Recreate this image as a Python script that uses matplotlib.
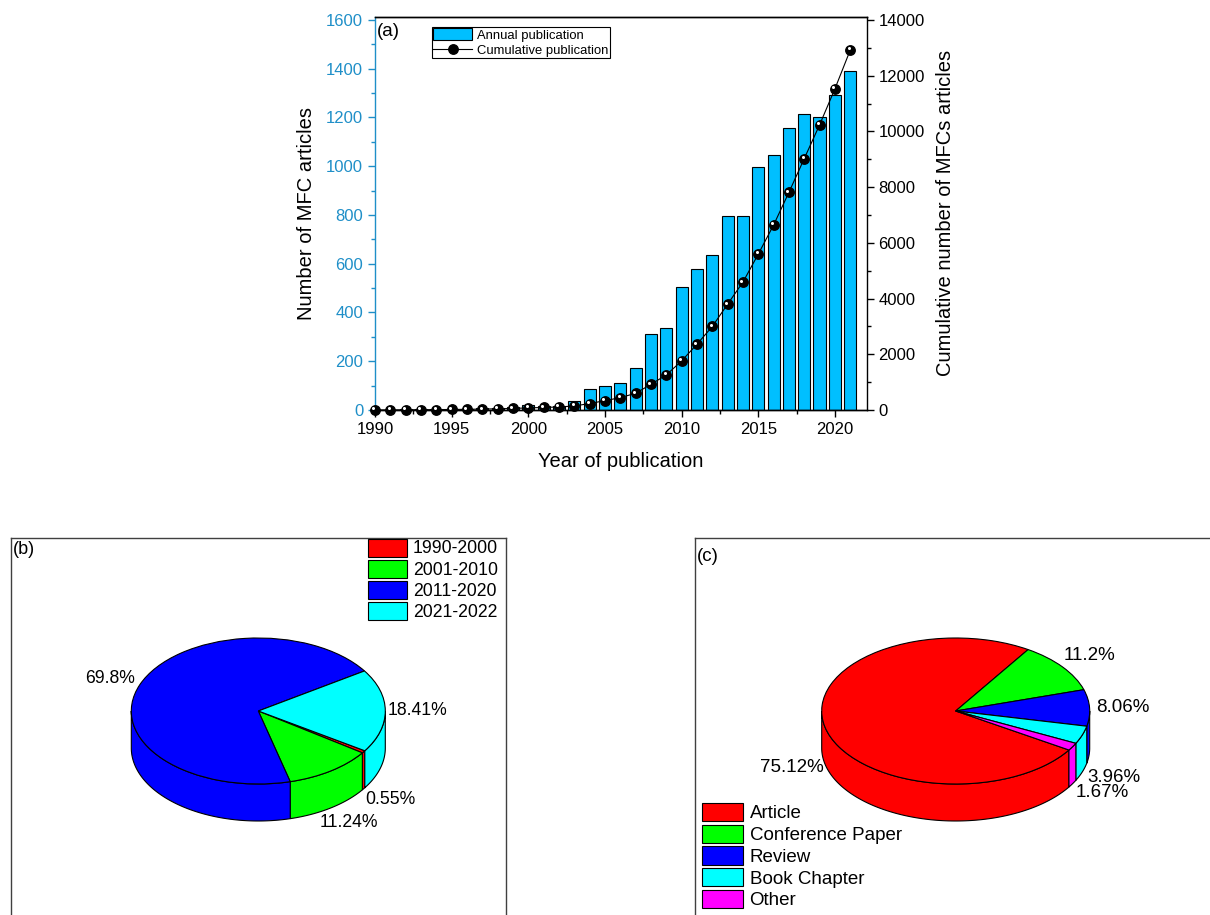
import numpy as np
import matplotlib
matplotlib.use('Agg')
import matplotlib.pyplot as plt
from matplotlib.ticker import MultipleLocator
import matplotlib.transforms as mtransforms

plt.rcParams['font.family'] = ['Liberation Sans', 'DejaVu Sans']

# ---------------- data ----------------
years = list(range(1990, 2022))
annual = [2, 2, 3, 3, 4, 5, 6, 8, 10, 13, 20, 15, 18, 35, 88, 100, 112, 172,
          311, 338, 504, 579, 634, 797, 796, 997, 1044, 1155, 1214, 1202, 1292, 1390]
cumulative = [2, 4, 7, 10, 14, 19, 25, 33, 43, 56, 76, 91, 109, 144, 232, 336,
              444, 600, 923, 1259, 1763, 2362, 2998, 3801, 4592, 5600, 6643,
              7818, 9029, 10240, 11535, 12926]

periods = ['1990-2000', '2001-2010', '2011-2020', '2021-2022']
period_pct = [0.55, 11.24, 69.8, 18.41]
period_labels = ['0.55%', '11.24%', '69.8%', '18.41%']
period_colors = ['#FF0000', '#00FF00', '#0000FF', '#00FFFF']

doc_types = ['Article', 'Conference Paper', 'Review', 'Book Chapter', 'Other']
doc_pct = [75.12, 11.2, 8.06, 3.96, 1.67]
doc_labels = ['75.12%', '11.2%', '8.06%', '3.96%', '1.67%']
doc_colors = ['#FF0000', '#00FF00', '#0000FF', '#00FFFF', '#FF00FF']

BAR_COLOR = '#00BFFF'
LEFT_COLOR = '#1F8FC8'

W, H = 1210, 915
fig = plt.figure(figsize=(W / 100, H / 100), dpi=100)


def rect(l, t, r, b):
    return [l / W, 1 - b / H, (r - l) / W, (b - t) / H]


# ---------------- panel (a) ----------------
ax = fig.add_axes(rect(375, 16.7, 866.7, 410))
bars = ax.bar(years, annual, width=0.8, color=BAR_COLOR, edgecolor='black',
              linewidth=0.8, zorder=2)
ax.set_xlim(1990, 2022.07)
ax.set_ylim(0, 1613)
ax.xaxis.set_major_locator(MultipleLocator(5))
ax.xaxis.set_minor_locator(MultipleLocator(2.5))
ax.yaxis.set_major_locator(MultipleLocator(200))
ax.yaxis.set_minor_locator(MultipleLocator(100))
ax.tick_params(axis='y', which='both', colors=LEFT_COLOR, direction='out', labelsize=12)
ax.tick_params(axis='x', which='both', colors='black', direction='out', labelsize=12)
ax.tick_params(which='major', length=5, width=1)
ax.tick_params(which='minor', length=3, width=1)
ax.spines['left'].set_color(LEFT_COLOR)
ax.spines['right'].set_visible(False)
for s in ax.spines.values():
    s.set_linewidth(1)
ax.set_ylabel('Number of MFC articles', fontsize=14.5, labelpad=7)
ax.set_xlabel('Year of publication', fontsize=14.5, labelpad=11)
ax.text(0.004, 0.985, '(a)', transform=ax.transAxes, ha='left', va='top', fontsize=13.5)

ax2 = ax.twinx()
ax2.set_ylim(0, 14120)
ax2.yaxis.set_major_locator(MultipleLocator(2000))
ax2.yaxis.set_minor_locator(MultipleLocator(1000))
ax2.tick_params(axis='y', which='both', direction='out', labelsize=12)
ax2.tick_params(which='major', length=5, width=1)
ax2.tick_params(which='minor', length=3, width=1)
ax2.spines['left'].set_visible(False)
for s in ax2.spines.values():
    s.set_linewidth(1)
line, = ax2.plot(years, cumulative, '-', color='black', lw=0.8, marker='o',
                 ms=6.8, mfc='black', mec='black', clip_on=False, zorder=3)
hl = mtransforms.offset_copy(ax2.transData, fig=fig, x=-1.1, y=1.1, units='points')
ax2.plot(years, cumulative, 'o', ms=2.2, color='white', mec='none',
         transform=hl, clip_on=False, zorder=4)
ax2.set_ylabel('Cumulative number of MFCs articles', fontsize=14.5, labelpad=8)

leg = ax2.legend([bars, line], ['Annual publication', 'Cumulative publication'],
                 loc='upper left', bbox_to_anchor=(0.1153, 0.9746),
                 borderaxespad=0, fontsize=9.4, handlelength=3.0, handleheight=1.05,
                 labelspacing=0.12, borderpad=0.12, handletextpad=0.35,
                 fancybox=False, framealpha=1, edgecolor='black')
leg.get_frame().set_linewidth(0.8)


# ---------------- 3D pie helper ----------------
def pie3d(ax, values, labels, colors, startangle, depth, fontsize):
    wedges, _ = ax.pie(values, colors=colors, startangle=startangle,
                       counterclock=False, radius=1, center=(0, 0), frame=True,
                       wedgeprops=dict(edgecolor='black', linewidth=0.8))
    for w, c, lab in zip(wedges, colors, labels):
        t1, t2 = w.theta1, w.theta2
        for k in range(-3, 3):
            a = max(t1, 180 + 360 * k)
            b = min(t2, 360 + 360 * k)
            if b > a:
                t = np.radians(np.linspace(a, b, 120))
                xs = np.concatenate([np.cos(t), np.cos(t[::-1])])
                ys = np.concatenate([np.sin(t), np.sin(t[::-1]) - depth])
                ax.fill(xs, ys, facecolor=c, edgecolor='black', linewidth=0.8, zorder=0.5)
        m = np.radians((t1 + t2) / 2)
        x = 1.25 * np.cos(m)
        y = 1.25 * np.sin(m) - (depth if np.sin(m) < 0 else 0)
        ax.text(x, y, lab, ha='center', va='center', fontsize=fontsize)
    ax.set_aspect('auto')
    ax.set_xticks([])
    ax.set_yticks([])
    for s in ax.spines.values():
        s.set_color('#404040')
        s.set_linewidth(1)
    return wedges


# ---------------- panel (b) ----------------
bx = fig.add_axes(rect(11, 538, 505.7, 925))
wb = pie3d(bx, period_pct, period_labels, period_colors, -33, 37 / 73, 12.7)
bx.set_xlim((11 - 258.3) / 127, (505.7 - 258.3) / 127)
bx.set_ylim((711 - 925) / 73, (711 - 538) / 73)
bx.text(0.004, 0.992, '(b)', transform=bx.transAxes, ha='left', va='top', fontsize=13)
bx.legend(wb, periods, loc='upper left', bbox_to_anchor=(368 / W, 1 - 538.5 / H),
          bbox_transform=fig.transFigure, frameon=False, borderpad=0,
          borderaxespad=0, handlelength=2.2, handleheight=1.2, labelspacing=0.12,
          handletextpad=0.35, fontsize=12.7)

# ---------------- panel (c) ----------------
cx = fig.add_axes(rect(695, 538, 1216, 925))
wc = pie3d(cx, doc_pct, doc_labels, doc_colors, -32.3, 37 / 73, 13.5)
cx.set_xlim((695 - 955.7) / 134, (1216 - 955.7) / 134)
cx.set_ylim((711 - 925) / 73, (711 - 538) / 73)
cx.text(0.004, 0.974, '(c)', transform=cx.transAxes, ha='left', va='top', fontsize=13.5)
cx.legend(wc, doc_types, loc='upper left', bbox_to_anchor=(701.7 / W, 1 - 803 / H),
          bbox_transform=fig.transFigure, frameon=False, borderpad=0,
          borderaxespad=0, handlelength=2.2, handleheight=1.12, labelspacing=0.12,
          handletextpad=0.35, fontsize=13.5)

fig.savefig('out.png', dpi=100)
